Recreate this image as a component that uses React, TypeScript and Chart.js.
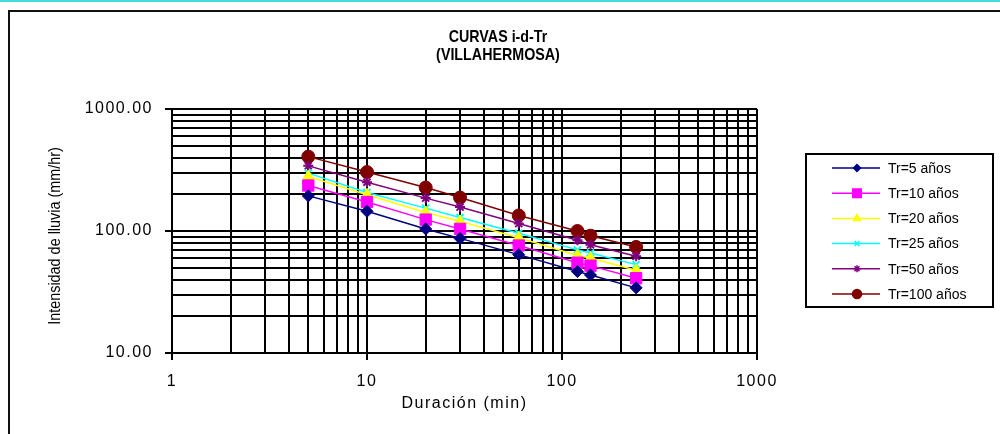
import React, { useEffect, useRef } from 'react';
import { Chart, registerables } from 'chart.js';
import { drawPoint } from 'chart.js/helpers';

Chart.register(...registerables);

// ---- Data ----
const durations = [5, 10, 20, 30, 60, 120, 140, 240];
const tr5 = [194, 145, 104, 87, 64, 46.5, 43.6, 34.2];
const tr10 = [236, 173, 124, 104, 76, 55, 52, 41];
const tr20 = [280, 198, 142, 120, 88, 63, 60, 47.6];
const tr25 = [298, 207, 154, 129, 96, 70, 66, 53];
const tr50 = [342, 251, 186, 157, 115, 84, 77, 62];
const tr100 = [407, 304, 227, 188, 134, 100, 91.5, 74];

const seriesLabels = ['Tr=5 años', 'Tr=10 años', 'Tr=20 años', 'Tr=25 años', 'Tr=50 años', 'Tr=100 años'];
const seriesValues = [tr5, tr10, tr20, tr25, tr50, tr100];
const seriesColors = ['#000080', '#FF00FF', '#FFFF00', '#00FFFF', '#800080', '#800000'];
const seriesPointStyles = ['rectRot', 'rect', 'triangle', 'crossRot', 'star', 'circle'];
const seriesPointRadius = [6, 8, 6.5, 5, 5, 6.5];
const legendPointRadius = [3.5, 6, 4, 3.5, 3.5, 4.5];

const xTickValues = [1, 2, 3, 4, 5, 6, 7, 8, 9, 10, 20, 30, 40, 50, 60, 70, 80, 90, 100, 200, 300, 400, 500, 600, 700, 800, 900, 1000];
const yTickValues = [10, 20, 30, 40, 50, 60, 70, 80, 90, 100, 200, 300, 400, 500, 600, 700, 800, 900, 1000];

const titleLines = ['CURVAS i-d-Tr', '(VILLAHERMOSA)'];
const xAxisTitle = 'Duración (min)';
const yAxisTitle = 'Intensidad de lluvia (mm/hr)';

const SANS = '"Liberation Sans", Arial, sans-serif';

const isMajor = (v: number) => {
  const l = Math.log10(v);
  return Math.abs(l - Math.round(l)) < 1e-9;
};

const decorPlugin = {
  id: 'decor',
  beforeDraw(chart: any) {
    const ctx = chart.ctx;
    ctx.save();
    ctx.fillStyle = '#ffffff';
    ctx.fillRect(0, 0, chart.width, chart.height);
    ctx.fillStyle = '#40dede';
    ctx.fillRect(0, 0, chart.width, 2);
    ctx.strokeStyle = '#111';
    ctx.lineWidth = 2;
    ctx.beginPath();
    ctx.moveTo(9, chart.height + 5);
    ctx.lineTo(9, 11);
    ctx.lineTo(chart.width + 5, 11);
    ctx.stroke();
    ctx.restore();
    ctx.letterSpacing = '1.5px';
  },
  afterDraw(chart: any) {
    const ctx = chart.ctx;
    ctx.letterSpacing = '0px';
    ctx.save();
    // Title (narrow look)
    ctx.fillStyle = '#000';
    ctx.textAlign = 'center';
    ctx.textBaseline = 'middle';
    ctx.font = 'bold 17px ' + SANS;
    ctx.save();
    ctx.translate(498, 0);
    ctx.scale(0.84, 1);
    ctx.fillText(titleLines[0], 0, 37);
    ctx.fillText(titleLines[1], 0, 55);
    ctx.restore();

    // Y axis title (narrow look)
    ctx.save();
    ctx.translate(56, 236);
    ctx.rotate(-Math.PI / 2);
    ctx.scale(0.9, 1);
    ctx.font = '16px ' + SANS;
    ctx.fillText(yAxisTitle, 0, 0);
    ctx.restore();

    // Legend
    const lx = 806, ly = 154, lw = 187, lh = 153;
    ctx.strokeStyle = '#000';
    ctx.lineWidth = 2;
    ctx.strokeRect(lx, ly, lw, lh);
    ctx.font = '14px ' + SANS;
    ctx.textAlign = 'left';
    chart.data.datasets.forEach((ds: any, i: number) => {
      const y = 168 + i * 25.2;
      ctx.strokeStyle = ds.borderColor;
      ctx.lineWidth = 1.5;
      ctx.beginPath();
      ctx.moveTo(832, y);
      ctx.lineTo(880, y);
      ctx.stroke();
      ctx.fillStyle = ds.pointBackgroundColor;
      ctx.strokeStyle = ds.pointBorderColor;
      drawPoint(ctx, {
        pointStyle: ds.pointStyle,
        radius: legendPointRadius[i],
        rotation: 0,
        borderWidth: ds.pointBorderWidth,
      } as any, 857, y);
      ctx.fillStyle = '#000';
      ctx.fillText(ds.label, 888, y + 1);
    });
    ctx.restore();
  },
};

export default function App() {
  const canvasRef = useRef<HTMLCanvasElement | null>(null);

  useEffect(() => {
    const canvas = canvasRef.current;
    if (!canvas) return;
    const datasets = seriesLabels.map((label, i) => ({
      label,
      data: durations.map((d, j) => ({ x: d, y: seriesValues[i][j] })),
      borderColor: seriesColors[i],
      backgroundColor: seriesColors[i],
      pointBackgroundColor: seriesColors[i],
      pointBorderColor: seriesColors[i],
      pointStyle: seriesPointStyles[i],
      pointRadius: seriesPointRadius[i],
      pointBorderWidth: seriesPointStyles[i] === 'crossRot' || seriesPointStyles[i] === 'star' ? 2 : 1,
      borderWidth: 1.5,
      tension: 0,
      fill: false,
    }));

    const chart = new Chart(canvas, {
      type: 'line',
      data: { datasets },
      plugins: [decorPlugin],
      options: {
        animation: false,
        responsive: false,
        devicePixelRatio: 1,
        layout: { padding: { left: 30, right: 243, top: 109, bottom: 10 } },
        plugins: {
          legend: { display: false },
          title: { display: false },
          tooltip: { enabled: false },
        },
        scales: {
          x: {
            type: 'logarithmic',
            min: 1,
            max: 1000,
            afterBuildTicks: (scale: any) => {
              scale.ticks = xTickValues.map((v) => ({ value: v }));
            },
            afterFit: (scale: any) => {
              scale.height = 71;
            },
            ticks: {
              autoSkip: false,
              maxRotation: 0,
              minRotation: 0,
              padding: 12,
              color: '#000',
              font: { family: SANS, size: 16 },
              callback: (v: any) => (isMajor(Number(v)) ? String(Number(v)) : ''),
            },
            grid: {
              color: '#000',
              lineWidth: 2,
              drawTicks: true,
              tickLength: 7,
              tickWidth: 2,
              tickColor: (c: any) => (c.tick && isMajor(c.tick.value) ? '#000' : 'rgba(0,0,0,0)'),
            },
            border: { color: '#000', width: 2 },
            title: {
              display: true,
              text: xAxisTitle,
              color: '#000',
              font: { family: SANS, size: 16 },
              padding: { top: 0, bottom: 11 },
            },
          },
          y: {
            type: 'logarithmic',
            min: 10,
            max: 1000,
            afterBuildTicks: (scale: any) => {
              scale.ticks = yTickValues.map((v) => ({ value: v }));
            },
            afterFit: (scale: any) => {
              scale.width = 142;
            },
            ticks: {
              autoSkip: false,
              padding: 12,
              color: '#000',
              font: { family: SANS, size: 16 },
              callback: (v: any) => (isMajor(Number(v)) ? Number(v).toFixed(2) : ''),
            },
            grid: {
              color: '#000',
              lineWidth: 2,
              drawTicks: true,
              tickLength: 7,
              tickWidth: 2,
              tickColor: (c: any) => (c.tick && isMajor(c.tick.value) ? '#000' : 'rgba(0,0,0,0)'),
            },
            border: { color: '#000', width: 2 },
            title: { display: false, text: yAxisTitle },
          },
        },
      } as any,
    });
    return () => chart.destroy();
  }, []);

  return (
    <div style={{ position: 'absolute', left: 0, top: 0, width: 1000, height: 434 }}>
      <canvas ref={canvasRef} width={1000} height={434} style={{ display: 'block' }} />
    </div>
  );
}
